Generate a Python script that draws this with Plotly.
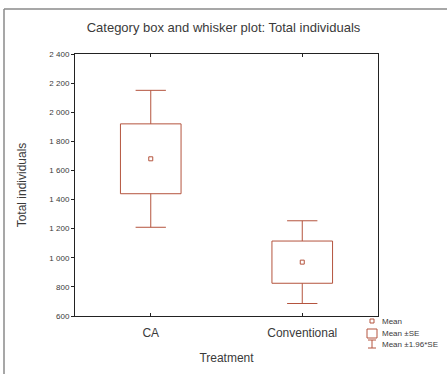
import plotly.graph_objects as go

# Treatment groups and summary statistics
categories = ["CA", "Conventional"]
means = [1680, 970]
std_errors = [240, 145]
y_ticks = [600, 800, 1000, 1200, 1400, 1600, 1800, 2000, 2200, 2400]

W, H = 447, 374
ML, MR, MT, MB = 75, 69, 54, 58
BOX_COLOR = "#b4543e"
TEXT_COLOR = "#3a3a3a"
FONT = "Liberation Sans, Arial, sans-serif"

xs = list(range(len(categories)))
box_half = 0.2
cap_half = 0.1

fig = go.Figure()

shapes = []
wx, wy = [], []
for x, m, se in zip(xs, means, std_errors):
    lo, hi = m - se, m + se
    wlo, whi = m - 1.96 * se, m + 1.96 * se
    # Mean ± SE box
    shapes.append(dict(type="rect", xref="x", yref="y",
                       x0=x - box_half, x1=x + box_half, y0=lo, y1=hi,
                       line=dict(color=BOX_COLOR, width=1), fillcolor="rgba(0,0,0,0)"))
    # whiskers to ±1.96 SE with caps
    wx += [x, x, None, x, x, None,
           x - cap_half, x + cap_half, None, x - cap_half, x + cap_half, None]
    wy += [hi, whi, None, lo, wlo, None, whi, whi, None, wlo, wlo, None]

fig.add_trace(go.Scatter(x=wx, y=wy, mode="lines",
                         line=dict(color=BOX_COLOR, width=1),
                         showlegend=False, hoverinfo="skip"))
fig.add_trace(go.Scatter(x=xs, y=means, mode="markers",
                         marker=dict(symbol="square-open", size=4,
                                     color=BOX_COLOR, line=dict(width=1)),
                         showlegend=False))

pw = W - ML - MR
ph = H - MT - MB

def px_x(p):
    return (p - ML) / pw

def px_y(p):
    return 1 - (p - MT) / ph

# Outer frame: left and top edges of the surrounding panel
shapes.append(dict(type="line", xref="paper", yref="paper",
                   x0=px_x(4), x1=px_x(4), y0=px_y(H), y1=px_y(9),
                   line=dict(color="#8a8a8a", width=1.5), layer="below"))
shapes.append(dict(type="line", xref="paper", yref="paper",
                   x0=px_x(4), x1=px_x(W), y0=px_y(9), y1=px_y(9),
                   line=dict(color="#8a8a8a", width=1.5), layer="below"))

# Legend key
shapes.append(dict(type="rect", xref="paper", yref="paper",
                   x0=px_x(370), x1=px_x(374), y0=px_y(323), y1=px_y(319),
                   line=dict(color=BOX_COLOR, width=1)))
shapes.append(dict(type="rect", xref="paper", yref="paper",
                   x0=px_x(367), x1=px_x(377), y0=px_y(338), y1=px_y(329),
                   line=dict(color=BOX_COLOR, width=1)))
for seg in [((372, 340), (372, 348)), ((368, 340), (376, 340)), ((368, 348), (376, 348))]:
    shapes.append(dict(type="line", xref="paper", yref="paper",
                       x0=px_x(seg[0][0]), x1=px_x(seg[1][0]),
                       y0=px_y(seg[0][1]), y1=px_y(seg[1][1]),
                       line=dict(color=BOX_COLOR, width=1)))

annotations = []
for label, yy in [("Mean", 321), ("Mean ±SE", 333), ("Mean ±1.96*SE", 344)]:
    annotations.append(dict(xref="paper", yref="paper", x=px_x(380), y=px_y(yy),
                            text=label, showarrow=False, xanchor="left", yanchor="middle",
                            font=dict(size=8, color=TEXT_COLOR, family=FONT)))

fig.update_layout(
    width=W, height=H,
    margin=dict(l=ML, r=MR, t=MT, b=MB),
    paper_bgcolor="white", plot_bgcolor="white",
    separators=". ",
    font=dict(family=FONT, color=TEXT_COLOR),
    title=dict(text="Category box and whisker plot: Total individuals",
               x=0.5, xanchor="center", y=1 - 27 / H, yanchor="middle",
               font=dict(size=13, color=TEXT_COLOR)),
    shapes=shapes, annotations=annotations, showlegend=False,
)
fig.update_xaxes(range=[-0.5, 1.5], tickvals=xs, ticktext=categories,
                 showgrid=False, zeroline=False, showline=True, linecolor="#222",
                 linewidth=1, mirror="ticks", ticks="inside", ticklen=3, tickcolor="#222",
                 ticklabelstandoff=6,
                 tickfont=dict(size=12, color=TEXT_COLOR),
                 title=dict(text="Treatment", font=dict(size=12, color=TEXT_COLOR), standoff=14))
fig.update_yaxes(range=[600, 2400], tickvals=y_ticks, tickformat=",d",
                 showgrid=False, zeroline=False, showline=True, linecolor="#222",
                 linewidth=1, mirror=True, ticks="outside", ticklen=3, tickcolor="#222",
                 tickfont=dict(size=8, color=TEXT_COLOR),
                 title=dict(text="Total individuals", font=dict(size=12, color=TEXT_COLOR), standoff=20))

# keep the page itself from scrolling
fig.write_html(
    "out.html",
    post_script=(
        "document.documentElement.style.overflow='hidden';"
        "document.body.style.margin='0';document.body.style.overflow='hidden';"
    ),
)
